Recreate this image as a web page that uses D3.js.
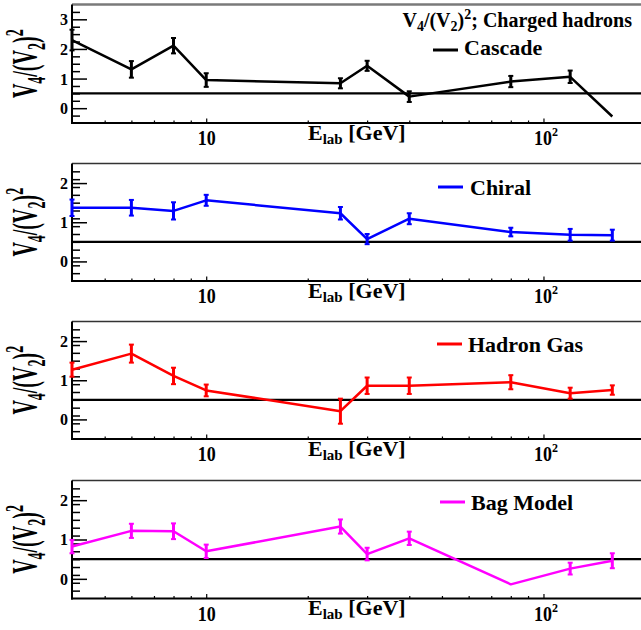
<!DOCTYPE html>
<html>
<head>
<meta charset="utf-8">
<script src="https://cdn.jsdelivr.net/npm/d3@7"></script>
<style>
  html, body { margin: 0; padding: 0; background: #fff; }
  svg { display: block; }
  text { font-family: "Liberation Serif", "Times New Roman", serif; font-weight: bold; fill: #000; }
</style>
</head>
<body>
<svg id="chart" width="641" height="630"></svg>
<script>
// Beam energies (GeV) shared by every model
const energies = [4, 6, 8, 10, 25, 30, 40, 80, 120, 160];

// v4/(v2)^2 for charged hadrons, per EoS, with statistical errors
const cascade    = [2.30, 1.31, 2.11, 0.95, 0.84, 1.43, 0.39, 0.90, 1.06, -0.28];
const cascadeErr = [0.35, 0.28, 0.26, 0.23, 0.17, 0.17, 0.18, 0.19, 0.21, 0];
const chiral     = [1.37, 1.37, 1.29, 1.56, 1.23, 0.57, 1.09, 0.75, 0.68, 0.67];
const chiralErr  = [0.21, 0.20, 0.22, 0.14, 0.16, 0.13, 0.14, 0.11, 0.15, 0.14];
const hadronGas    = [1.27, 1.68, 1.11, 0.74, 0.21, 0.86, 0.86, 0.95, 0.67, 0.75];
const hadronGasErr = [0.18, 0.23, 0.21, 0.15, 0.32, 0.21, 0.21, 0.18, 0.14, 0.12];
const bagModel    = [0.82, 1.22, 1.21, 0.70, 1.33, 0.63, 1.03, -0.14, 0.26, 0.46];
const bagModelErr = [0.17, 0.18, 0.20, 0.17, 0.18, 0.16, 0.17, 0, 0.15, 0.19];

// Axis settings
const xDomain = [4, 200];
const xMajorTicks = [10, 100];
const xMinorTicks = [5, 6, 7, 8, 9, 20, 30, 40, 50, 60, 70, 80, 90];
const referenceLevel = 0.5;

const panels = [
  { name: "Cascade",    values: cascade,   errors: cascadeErr,   color: "#000000",
    yDomain: [-0.5, 3.5], yMajor: [0, 1, 2, 3], yMinorStep: 0.25, top: 4.5, bottom: 123 },
  { name: "Chiral",     values: chiral,    errors: chiralErr,    color: "#0000ff",
    yDomain: [-0.5, 2.5], yMajor: [0, 1, 2], yMinorStep: 0.2, top: 163.5, bottom: 281 },
  { name: "Hadron Gas", values: hadronGas, errors: hadronGasErr, color: "#ff0000",
    yDomain: [-0.5, 2.5], yMajor: [0, 1, 2], yMinorStep: 0.2, top: 321.5, bottom: 439 },
  { name: "Bag Model",  values: bagModel,  errors: bagModelErr,  color: "#ff00ff",
    yDomain: [-0.5, 2.5], yMajor: [0, 1, 2], yMinorStep: 0.2, top: 480.5, bottom: 598.5 }
];

const legendPos = [
  { x1: 433, y: 50,  tx: 464, ty: 55 },
  { x1: 438, y: 187, tx: 470, ty: 195 },
  { x1: 437, y: 344, tx: 468, ty: 352 },
  { x1: 440, y: 502, tx: 471, ty: 509.5 }
];

const svg = d3.select("#chart");
const left = 72, right = 645;

const x = d3.scaleLog().domain(xDomain).range([left, right]);

// Writes V4/(V2)^2 into a text element using tspans
function ratioLabel(t, size, withTail) {
  const sub = size * 0.7;
  t.append("tspan").text("V");
  t.append("tspan").attr("font-size", sub).attr("dy", size * 0.22).text("4");
  t.append("tspan").attr("dy", -size * 0.22).text("/(V");
  t.append("tspan").attr("font-size", sub).attr("dy", size * 0.22).text("2");
  t.append("tspan").attr("dy", -size * 0.22).text(")");
  t.append("tspan").attr("font-size", sub).attr("dy", -size * 0.4).text("2");
  if (withTail) t.append("tspan").attr("dy", size * 0.4).text(withTail);
}

panels.forEach((p, i) => {
  const y = d3.scaleLinear().domain(p.yDomain).range([p.bottom, p.top]);
  const g = svg.append("g");

  // minor y ticks
  const minor = d3.range(p.yDomain[0] + p.yMinorStep, p.yDomain[1] - 1e-6, p.yMinorStep)
    .filter(v => Math.abs(v - Math.round(v)) > 1e-6);
  const yMinorAxis = d3.axisLeft(y).tickValues(minor).tickSize(-8).tickFormat("");
  g.append("g").attr("transform", `translate(${left},0)`).call(yMinorAxis)
    .call(a => a.select(".domain").remove())
    .selectAll("line").attr("stroke", "#000").attr("stroke-width", 1.5);

  // major y ticks with labels
  const yMajorAxis = d3.axisLeft(y).tickValues(p.yMajor).tickSize(-15).tickPadding(4)
    .tickFormat(d3.format("d"));
  const ya = g.append("g").attr("transform", `translate(${left},0)`).call(yMajorAxis);
  ya.select(".domain").remove();
  ya.selectAll("line").attr("stroke", "#000").attr("stroke-width", 1.5);
  ya.selectAll("text").attr("font-size", 16).attr("font-family", "Liberation Serif")
    .attr("font-weight", "bold").attr("dy", "0.34em");

  // x minor and major ticks
  const xMinorAxis = d3.axisBottom(x).tickValues(xMinorTicks).tickSize(-2.5).tickFormat("");
  g.append("g").attr("transform", `translate(0,${p.bottom})`).call(xMinorAxis)
    .call(a => a.select(".domain").remove())
    .selectAll("line").attr("stroke", "#000").attr("stroke-width", 1.2);

  const xMajorAxis = d3.axisBottom(x).tickValues(xMajorTicks).tickSize(-4.5).tickFormat("");
  const xa = g.append("g").attr("transform", `translate(0,${p.bottom})`).call(xMajorAxis);
  xa.select(".domain").remove();
  xa.selectAll("line").attr("stroke", "#000").attr("stroke-width", 1.2);
  xa.selectAll(".tick").each(function(d) {
    const t = d3.select(this).append("text")
      .attr("font-size", 18).attr("text-anchor", "middle")
      .attr("transform", "translate(0,22) scale(1,1.12)").attr("fill", "#000")
      .attr("font-family", "Liberation Serif").attr("font-weight", "bold");
    if (d === 10) {
      t.text("10");
    } else {
      t.attr("x", 2);
      t.append("tspan").text("10");
      t.append("tspan").attr("font-size", 12).attr("dy", -8).text("2");
    }
  });

  // frame
  g.append("line").attr("x1", left).attr("x2", 641).attr("y1", p.top).attr("y2", p.top)
    .attr("stroke", i === 0 ? "#7a7a7a" : "#333").attr("stroke-width", i === 0 ? 2.5 : 1.5);
  g.append("line").attr("x1", left).attr("x2", left).attr("y1", p.top).attr("y2", p.bottom + 1)
    .attr("stroke", "#000").attr("stroke-width", 2);
  g.append("line").attr("x1", left - 1).attr("x2", 641).attr("y1", p.bottom).attr("y2", p.bottom)
    .attr("stroke", "#000").attr("stroke-width", 2);

  // x axis title
  const xt = g.append("text").attr("x", 308).attr("y", p.bottom + 16.5).attr("font-size", 22);
  xt.append("tspan").text("E");
  xt.append("tspan").attr("font-size", 15).attr("dy", 4).text("lab");
  xt.append("tspan").attr("dy", -4).text(" [GeV]");

  // y axis title, tall bold glyphs
  const cy = (p.top + p.bottom) / 2;
  const yt = g.append("text").attr("font-size", 20).attr("text-anchor", "middle")
    .attr("transform", `translate(37,${cy}) rotate(-90) scale(1,1.8)`);
  ratioLabel(yt, 20);

  // reference line at 0.5
  g.append("line").attr("x1", left).attr("x2", right)
    .attr("y1", y(referenceLevel)).attr("y2", y(referenceLevel))
    .attr("stroke", "#000").attr("stroke-width", 2.2);

  // model curve
  const pts = energies.map((e, k) => ({ e, v: p.values[k], err: p.errors[k] }));
  const line = d3.line().x(d => x(d.e)).y(d => y(d.v));
  g.append("path").datum(pts).attr("d", line).attr("fill", "none")
    .attr("stroke", p.color).attr("stroke-width", 2.5).attr("stroke-linejoin", "round");

  // error bars with caps
  const eb = g.append("g").selectAll("g").data(pts.filter(d => d.err > 0)).join("g");
  eb.append("line").attr("x1", d => x(d.e)).attr("x2", d => x(d.e))
    .attr("y1", d => y(d.v - d.err)).attr("y2", d => y(d.v + d.err))
    .attr("stroke", p.color).attr("stroke-width", 3);
  [-1, 1].forEach(s => {
    eb.append("line").attr("x1", d => x(d.e) - 2.5).attr("x2", d => x(d.e) + 2.5)
      .attr("y1", d => y(d.v + s * d.err)).attr("y2", d => y(d.v + s * d.err))
      .attr("stroke", p.color).attr("stroke-width", 2);
  });

  // legend
  const lp = legendPos[i];
  g.append("line").attr("x1", lp.x1).attr("x2", lp.x1 + 25).attr("y1", lp.y).attr("y2", lp.y)
    .attr("stroke", p.color).attr("stroke-width", 3);
  g.append("text").attr("x", lp.tx).attr("y", lp.ty).attr("font-size", 22).text(p.name);
});

// panel heading
const title = svg.append("text").attr("x", 632).attr("y", 27).attr("font-size", 20)
  .attr("text-anchor", "end");
ratioLabel(title, 20, "; Charged hadrons");
</script>
</body>
</html>
